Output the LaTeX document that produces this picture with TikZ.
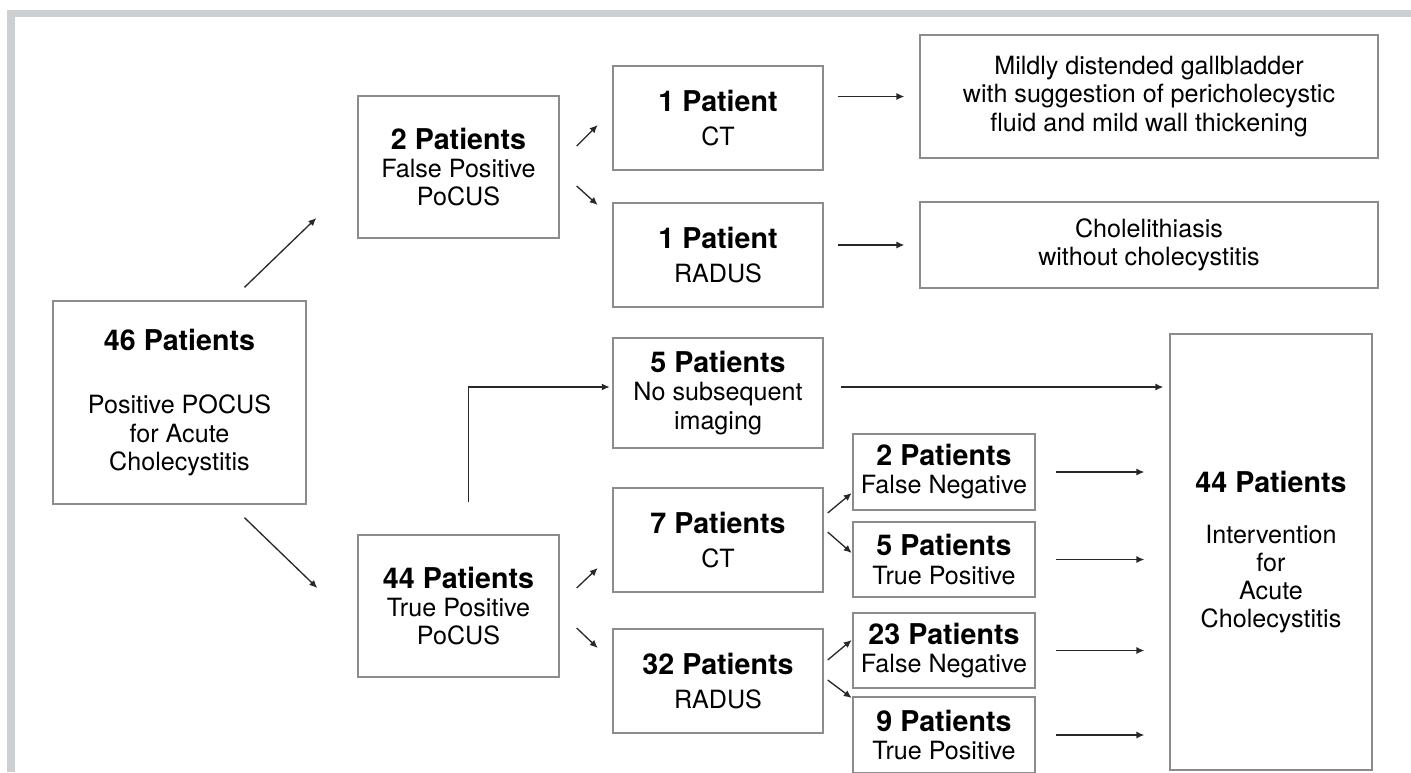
\documentclass[tikz,border=0pt]{standalone}
\usepackage{fontspec}
\setmainfont{TeX Gyre Heros}
\usepackage{xcolor}
\usetikzlibrary{arrows.meta, calc}
\definecolor{framegray}{RGB}{204,208,211}
\definecolor{boxgray}{RGB}{140,140,140}
\definecolor{arrowgray}{RGB}{40,40,40}
\newcommand{\pts}[1]{{\fontsize{16.3}{18}\selectfont\bfseries #1}}

\begin{document}
\begin{tikzpicture}[x=0.02cm, y=-0.02cm, >={Latex[length=4.5pt,width=4pt]},
  every node/.style={font=\fontsize{14.3}{16}\selectfont, align=center},
  box/.style={draw=boxgray, line width=0.8pt, inner sep=0pt},
  link/.style={->, draw=arrowgray, line width=0.75pt}]
\useasboundingbox (0,0) rectangle (1411,772);
% page frame
\fill[framegray] (7,10) rectangle (1411,17);
\fill[framegray] (7,10) rectangle (15,772);

% first split
\node[box, minimum width=5.06cm, minimum height=4.06cm] (all) at (179.5,402.5)
  {\pts{46 Patients}\\[20pt]Positive POCUS\\for Acute\\Cholecystitis};
\node[box, minimum width=4.02cm, minimum height=2.84cm] (fpos) at (458.5,167)
  {\pts{2 Patients}\\False Positive\\PoCUS};
\node[box, minimum width=4.02cm, minimum height=2.84cm] (tpos) at (458.5,606)
  {\pts{44 Patients}\\True Positive\\PoCUS};
\draw[link] ($(all.north)+(65,-13)$) -- ($(fpos.west)+(-41,51)$);
\draw[link] ($(all.south)+(65,13)$) -- ($(tpos.west)+(-40,-18)$);

% false positive branch
\node[box, minimum width=4.2cm, minimum height=2.08cm] (fct) at (718,118)
  {\pts{1 Patient}\\[3pt]CT};
\node[box, minimum width=4.2cm, minimum height=2.08cm] (fus) at (718,255)
  {\pts{1 Patient}\\[3pt]RADUS};
\node[box, minimum width=9.16cm, minimum height=2.46cm] (fctres) at (1149,96.5)
  {Mildly distended gallbladder\\with suggestion of pericholecystic\\fluid and mild wall thickening};
\node[box, minimum width=9.16cm, minimum height=1.72cm] (fusres) at (1149,245)
  {Cholelithiasis\\without cholecystitis};
\draw[link] ($(fpos.east)+(17,-21)$) -- ++(21,-21);
\draw[link] ($(fpos.east)+(17,19)$) -- ++(21,19);
\draw[link] ($(fct.east |- fctres.west)+(14,0)$) -- ($(fctres.west)+(-15,0)$);
\draw[link] ($(fus.east |- fusres.west)+(14,0)$) -- ($(fusres.west)+(-15,0)$);

% true positive branch
\node[box, minimum width=4.2cm, minimum height=2.2cm] (none) at (718,393)
  {\pts{5 Patients}\\No subsequent\\imaging};
\node[box, minimum width=4.2cm, minimum height=2.08cm] (tct) at (718,540)
  {\pts{7 Patients}\\[3pt]CT};
\node[box, minimum width=4.2cm, minimum height=2.08cm] (tus) at (718,681)
  {\pts{32 Patients}\\[3pt]RADUS};
\draw[link, shorten >=1.5pt] ($(tpos.north)+(10,-32)$) |- ($(none.west)+(0,-6)$);
\draw[link] ($(tpos.east)+(17,-18)$) -- ++(21,-20);
\draw[link] ($(tpos.east)+(17,22)$) -- ++(21,20);

\node[box, minimum width=3.64cm, minimum height=1.52cm] (ctfn) at (944,472)
  {\pts{2 Patients}\\False Negative};
\node[box, minimum width=3.64cm, minimum height=1.5cm] (cttp) at (944,559.5)
  {\pts{5 Patients}\\True Positive};
\node[box, minimum width=3.64cm, minimum height=1.5cm] (usfn) at (944,650.5)
  {\pts{23 Patients}\\False Negative};
\node[box, minimum width=3.64cm, minimum height=1.52cm] (ustp) at (944,735)
  {\pts{9 Patients}\\True Positive};
\draw[link] ($(tct.east)+(4,-27)$) -- ++(24,-20);
\draw[link] ($(tct.east)+(4,-8)$) -- ++(24,21);
\draw[link] ($(tus.east)+(4,-21)$) -- ++(24,-20);
\draw[link] ($(tus.east)+(4,-1)$) -- ++(24,18);

% outcome
\node[box, minimum width=4.04cm, minimum height=8.72cm] (treat) at (1271,552)
  {\pts{44 Patients}\\[13pt]Intervention\\for\\Acute\\Cholecystitis};
\draw[link] ($(none.east)+(17,-6)$) -- ($(treat.west |- none.east)+(-6,-6)$);
\foreach \n in {ctfn, cttp, usfn, ustp}
  \draw[link] ($(\n.east)+(20,0)$) -- ($(treat.west |- \n.east)+(-25,0)$);
\end{tikzpicture}
\end{document}
